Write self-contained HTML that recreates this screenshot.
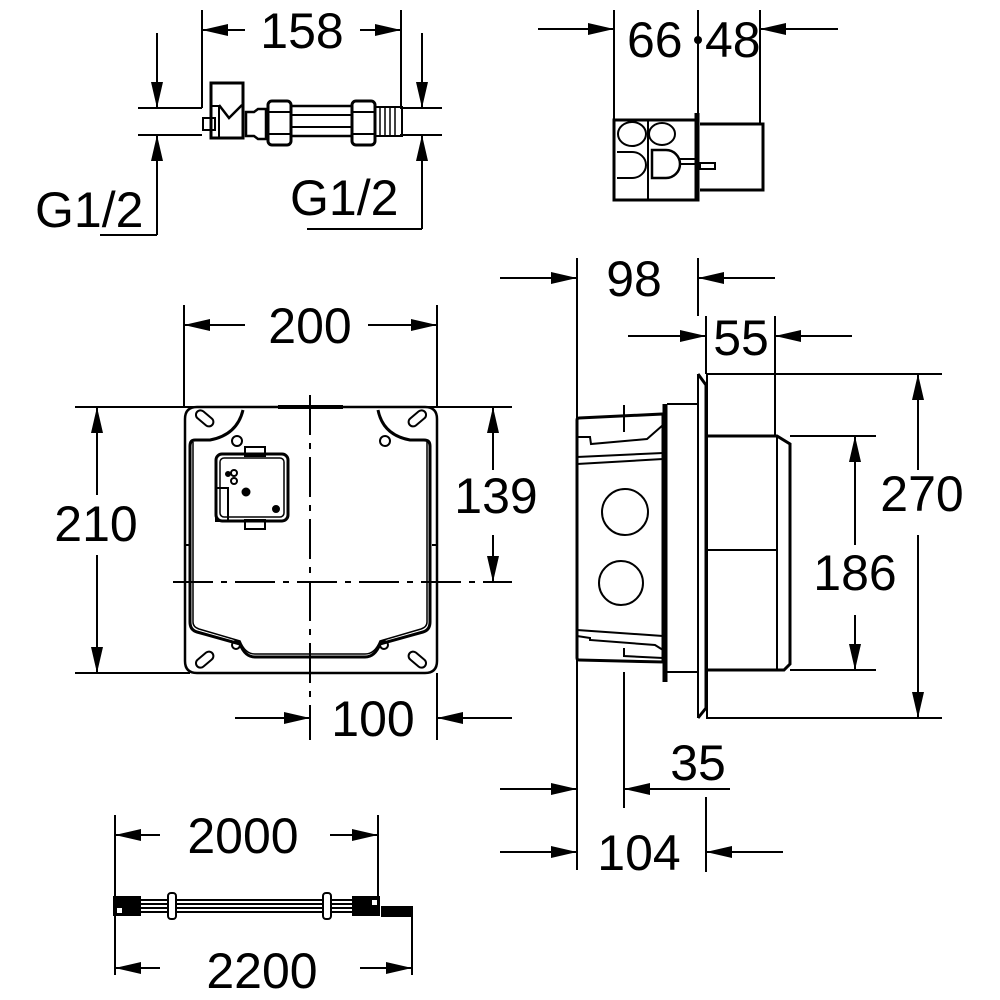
<!DOCTYPE html>
<html><head><meta charset="utf-8"><style>
html,body{margin:0;padding:0;background:#fff;}
svg{display:block;}
text{font-family:"Liberation Sans",sans-serif;font-size:50px;fill:#000;}
</style></head><body>
<svg width="1000" height="1000" viewBox="0 0 1000 1000" xmlns="http://www.w3.org/2000/svg">
<defs>
<marker id="a" markerWidth="26" markerHeight="12" refX="26" refY="6" orient="auto" markerUnits="userSpaceOnUse">
<path d="M0,0 L26,6 L0,12 Z" fill="#000"/></marker>
</defs>
<g stroke="#000" stroke-width="2" fill="none">
<line x1="202" y1="10" x2="202" y2="108"/>
<line x1="401" y1="10" x2="401" y2="108"/>
<line x1="245" y1="30" x2="202" y2="30" marker-end="url(#a)"/>
<line x1="360" y1="30" x2="401" y2="30" marker-end="url(#a)"/>
<line x1="138" y1="108" x2="202" y2="108"/>
<line x1="138" y1="135" x2="202" y2="135"/>
<line x1="400" y1="108" x2="442" y2="108"/>
<line x1="400" y1="135" x2="442" y2="135"/>
<line x1="157" y1="33" x2="157" y2="108" marker-end="url(#a)"/>
<line x1="157" y1="235" x2="157" y2="135" marker-end="url(#a)"/>
<line x1="100" y1="235" x2="157" y2="235"/>
<line x1="422" y1="33" x2="422" y2="108" marker-end="url(#a)"/>
<line x1="422" y1="229" x2="422" y2="135" marker-end="url(#a)"/>
<line x1="307" y1="229" x2="422" y2="229"/>
<path d="M211,108 V138 H243 V83 H211 V108" stroke-width="3"/>
<path d="M211,106 H219 V138" stroke-width="2"/>
<rect x="203" y="118" width="12" height="12" stroke-width="2"/>
<path d="M219,105 L229,118 L242,105" stroke-width="2.5"/>
<path d="M246,112 h8 l4,-3 h8 v30 h-8 l-4,-3 h-8 z" stroke-width="2.5"/>
<rect x="268" y="101" width="23" height="44" rx="4" stroke-width="3"/>
<line x1="268" y1="112" x2="291" y2="112"/><line x1="268" y1="134" x2="291" y2="134"/>
<rect x="291" y="106" width="61" height="30" stroke-width="2.5"/>
<line x1="291" y1="115" x2="352" y2="115"/><line x1="291" y1="127" x2="352" y2="127"/>
<rect x="352" y="101" width="23" height="44" rx="4" stroke-width="3"/>
<line x1="352" y1="112" x2="375" y2="112"/><line x1="352" y1="134" x2="375" y2="134"/>
<rect x="375" y="107" width="27" height="29" stroke-width="2"/>
<path d="M380,108 v27 M385,108 v27 M390,108 v27 M395,108 v27" stroke-width="1.5"/>

<line x1="614" y1="10" x2="614" y2="120"/>
<line x1="698" y1="10" x2="698" y2="118"/>
<line x1="760" y1="10" x2="760" y2="124"/>
<line x1="538" y1="29" x2="614" y2="29" marker-end="url(#a)"/>
<line x1="838" y1="29" x2="760" y2="29" marker-end="url(#a)"/>
<rect x="614" y="120" width="84" height="80" stroke-width="3"/>
<line x1="648" y1="120" x2="648" y2="200"/>
<line x1="697" y1="113" x2="697" y2="200" stroke-width="5"/>
<path d="M700,124 H763 V190 H700" stroke-width="3"/>
<ellipse cx="632" cy="134" rx="14" ry="12"/>
<ellipse cx="662" cy="134" rx="13" ry="11"/>
<path d="M617,152 h15 a14,13 0 0 1 0,26 h-15"/>
<path d="M652,150 h14 a14,14 0 0 1 0,28 h-14 z" stroke-width="2.5"/>
<line x1="680" y1="159" x2="697" y2="159"/><line x1="680" y1="164" x2="697" y2="164"/>
<rect x="700" y="163" width="15" height="6"/>

<line x1="75" y1="407" x2="512" y2="407"/>
<line x1="75" y1="673" x2="190" y2="673"/>
<line x1="184" y1="305" x2="184" y2="407"/>
<line x1="437" y1="305" x2="437" y2="407"/>
<line x1="437" y1="673" x2="437" y2="740"/>
<line x1="245" y1="325" x2="184" y2="325" marker-end="url(#a)"/>
<line x1="368" y1="325" x2="437" y2="325" marker-end="url(#a)"/>
<line x1="97" y1="495" x2="97" y2="407" marker-end="url(#a)"/>
<line x1="97" y1="555" x2="97" y2="673" marker-end="url(#a)"/>
<line x1="493" y1="470" x2="493" y2="407" marker-end="url(#a)"/>
<line x1="493" y1="535" x2="493" y2="582" marker-end="url(#a)"/>
<line x1="235" y1="718" x2="310" y2="718" marker-end="url(#a)"/>
<line x1="512" y1="718" x2="437" y2="718" marker-end="url(#a)"/>
<line x1="310" y1="395" x2="310" y2="740" stroke-dasharray="40,8,6,8"/>
<line x1="173" y1="582" x2="512" y2="582" stroke-dasharray="40,8,6,8"/>
<path d="M197,407 H425 Q437,407 437,419 V661 Q437,673 425,673 H197 Q185,673 185,661 V419 Q185,407 197,407 Z" stroke-width="2.5"/>
<path d="M278,407 H343" stroke-width="4"/>
<path d="M243,410 Q237,435 210,440 H195 Q190,440 190,446 V622 Q190,630 197,632 L240,644 Q245,657 255,657 H365 Q375,657 380,644 L423,632 Q430,630 430,622 V446 Q430,440 424,440 H410 Q383,435 378,410" stroke-width="3"/>
<path d="M193,442 V622 Q193,627 199,629 L240,641 Q245,654 255,654 H365 Q375,654 380,641 L421,629 Q427,627 427,622 V442" stroke-width="1.5"/>
<rect x="195" y="414" width="20" height="9" rx="4.5" transform="rotate(40 205 418)"/>
<rect x="407" y="414" width="20" height="9" rx="4.5" transform="rotate(-40 417 418)"/>
<rect x="195" y="655" width="20" height="9" rx="4.5" transform="rotate(-40 205 660)"/>
<rect x="407" y="655" width="20" height="9" rx="4.5" transform="rotate(40 417 660)"/>
<circle cx="237" cy="441" r="5"/><circle cx="385" cy="441" r="5"/>
<circle cx="236" cy="645" r="4"/><circle cx="384" cy="645" r="4"/>
<rect x="216" y="454" width="72" height="67" rx="6" stroke-width="3"/>
<rect x="220" y="458" width="64" height="59" rx="4" stroke-width="1.5"/>
<rect x="216" y="488" width="12" height="33" stroke-width="2"/>
<rect x="245" y="447" width="20" height="9" stroke-width="2"/>
<rect x="245" y="520" width="20" height="9" stroke-width="2"/>
<circle cx="234" cy="473" r="3"/><circle cx="234" cy="481" r="3"/>
<circle cx="228" cy="474" r="2" fill="#000"/>
<circle cx="246" cy="492" r="3.5" fill="#000"/>
<circle cx="276" cy="509" r="3" fill="#000"/>
<line x1="185" y1="545" x2="190" y2="545"/><line x1="432" y1="545" x2="437" y2="545"/>

<line x1="577" y1="258" x2="577" y2="870"/>
<line x1="698" y1="258" x2="698" y2="316"/>
<line x1="706" y1="316" x2="706" y2="374"/>
<line x1="775" y1="316" x2="775" y2="436"/>
<line x1="500" y1="278" x2="577" y2="278" marker-end="url(#a)"/>
<line x1="775" y1="278" x2="698" y2="278" marker-end="url(#a)"/>
<line x1="628" y1="336" x2="706" y2="336" marker-end="url(#a)"/>
<line x1="852" y1="336" x2="775" y2="336" marker-end="url(#a)"/>
<line x1="706" y1="374" x2="942" y2="374"/>
<line x1="706" y1="718" x2="942" y2="718"/>
<line x1="790" y1="436" x2="876" y2="436"/>
<line x1="790" y1="670" x2="876" y2="670"/>
<line x1="918" y1="470" x2="918" y2="374" marker-end="url(#a)"/>
<line x1="918" y1="535" x2="918" y2="718" marker-end="url(#a)"/>
<line x1="855" y1="545" x2="855" y2="436" marker-end="url(#a)"/>
<line x1="855" y1="615" x2="855" y2="670" marker-end="url(#a)"/>
<line x1="624" y1="672" x2="624" y2="808"/>
<line x1="706" y1="797" x2="706" y2="872"/>
<line x1="500" y1="789" x2="577" y2="789" marker-end="url(#a)"/>
<line x1="730" y1="789" x2="624" y2="789" marker-end="url(#a)"/>
<line x1="500" y1="852" x2="577" y2="852" marker-end="url(#a)"/>
<line x1="783" y1="852" x2="706" y2="852" marker-end="url(#a)"/>
<line x1="624" y1="405" x2="624" y2="432"/>
<path d="M579,418 L663,414 V662 L579,660 Q577,660 577,658 V420 Q577,418 579,418 Z" stroke-width="3"/>
<path d="M577,437 H590 L591,444 L647,439 L663,425" />
<path d="M577,457 L663,453"/>
<path d="M577,464 L663,459"/>
<path d="M577,630 L663,636"/>
<path d="M577,636 L590,638 V640 L655,645 L663,650"/>
<path d="M624,648 V656 L663,658"/>
<line x1="665" y1="404" x2="665" y2="682" stroke-width="5"/>
<path d="M667,404 H698 M667,672 H698"/>
<path d="M698,374 V718 M707,374 V718" stroke-width="2"/>
<path d="M698,374 L706,385 V708 L698,718" stroke-width="3"/>
<path d="M707,436 H777 L790,444 V664 L784,670 H707" stroke-width="3"/>
<line x1="777" y1="436" x2="777" y2="670"/>
<line x1="707" y1="550" x2="777" y2="550"/>
<circle cx="625" cy="512" r="23"/>
<circle cx="621" cy="583" r="22"/>

<line x1="115" y1="815" x2="115" y2="975"/>
<line x1="378" y1="815" x2="378" y2="900"/>
<line x1="412" y1="910" x2="412" y2="975"/>
<line x1="160" y1="835" x2="115" y2="835" marker-end="url(#a)"/>
<line x1="330" y1="835" x2="378" y2="835" marker-end="url(#a)"/>
<line x1="160" y1="968" x2="115" y2="968" marker-end="url(#a)"/>
<line x1="360" y1="968" x2="412" y2="968" marker-end="url(#a)"/>
<rect x="114" y="897" width="26" height="18" fill="#000"/>
<rect x="117" y="908" width="5" height="5" fill="#fff" stroke="none"/>
<path d="M140,900 H355 M140,904 H355 M140,908 H355 M140,912 H355" stroke-width="2"/>
<rect x="353" y="897" width="26" height="18" fill="#000"/>
<rect x="372" y="900" width="5" height="5" fill="#fff" stroke="none"/>
<rect x="382" y="907" width="30" height="9" fill="#000"/>
<rect x="168" y="893" width="8" height="26" rx="3" fill="#fff" stroke-width="2"/>
<rect x="323" y="893" width="8" height="26" rx="3" fill="#fff" stroke-width="2"/>
</g>
<circle cx="698" cy="40" r="4" fill="#000"/>
<g>
<text x="302" y="48" text-anchor="middle" font-size="46">158</text>
<text x="35" y="227" font-size="46">G1/2</text>
<text x="290" y="215" font-size="46">G1/2</text>
<text x="627" y="57" font-size="46">66</text>
<text x="705" y="57" font-size="46">48</text>
<text x="310" y="343" text-anchor="middle" font-size="48">200</text>
<text x="96" y="541" text-anchor="middle" font-size="48">210</text>
<text x="496" y="513" text-anchor="middle" font-size="48">139</text>
<text x="373" y="736" text-anchor="middle" font-size="48">100</text>
<text x="634" y="296" text-anchor="middle" font-size="48">98</text>
<text x="741" y="355" text-anchor="middle" font-size="48">55</text>
<text x="922" y="511" text-anchor="middle" font-size="48">270</text>
<text x="855" y="590" text-anchor="middle" font-size="48">186</text>
<text x="698" y="780" text-anchor="middle" font-size="48">35</text>
<text x="639" y="870" text-anchor="middle" font-size="48">104</text>
<text x="243" y="853" text-anchor="middle" font-size="48">2000</text>
<text x="262" y="988" text-anchor="middle" font-size="48">2200</text>
</g>
</svg>
</body></html>
